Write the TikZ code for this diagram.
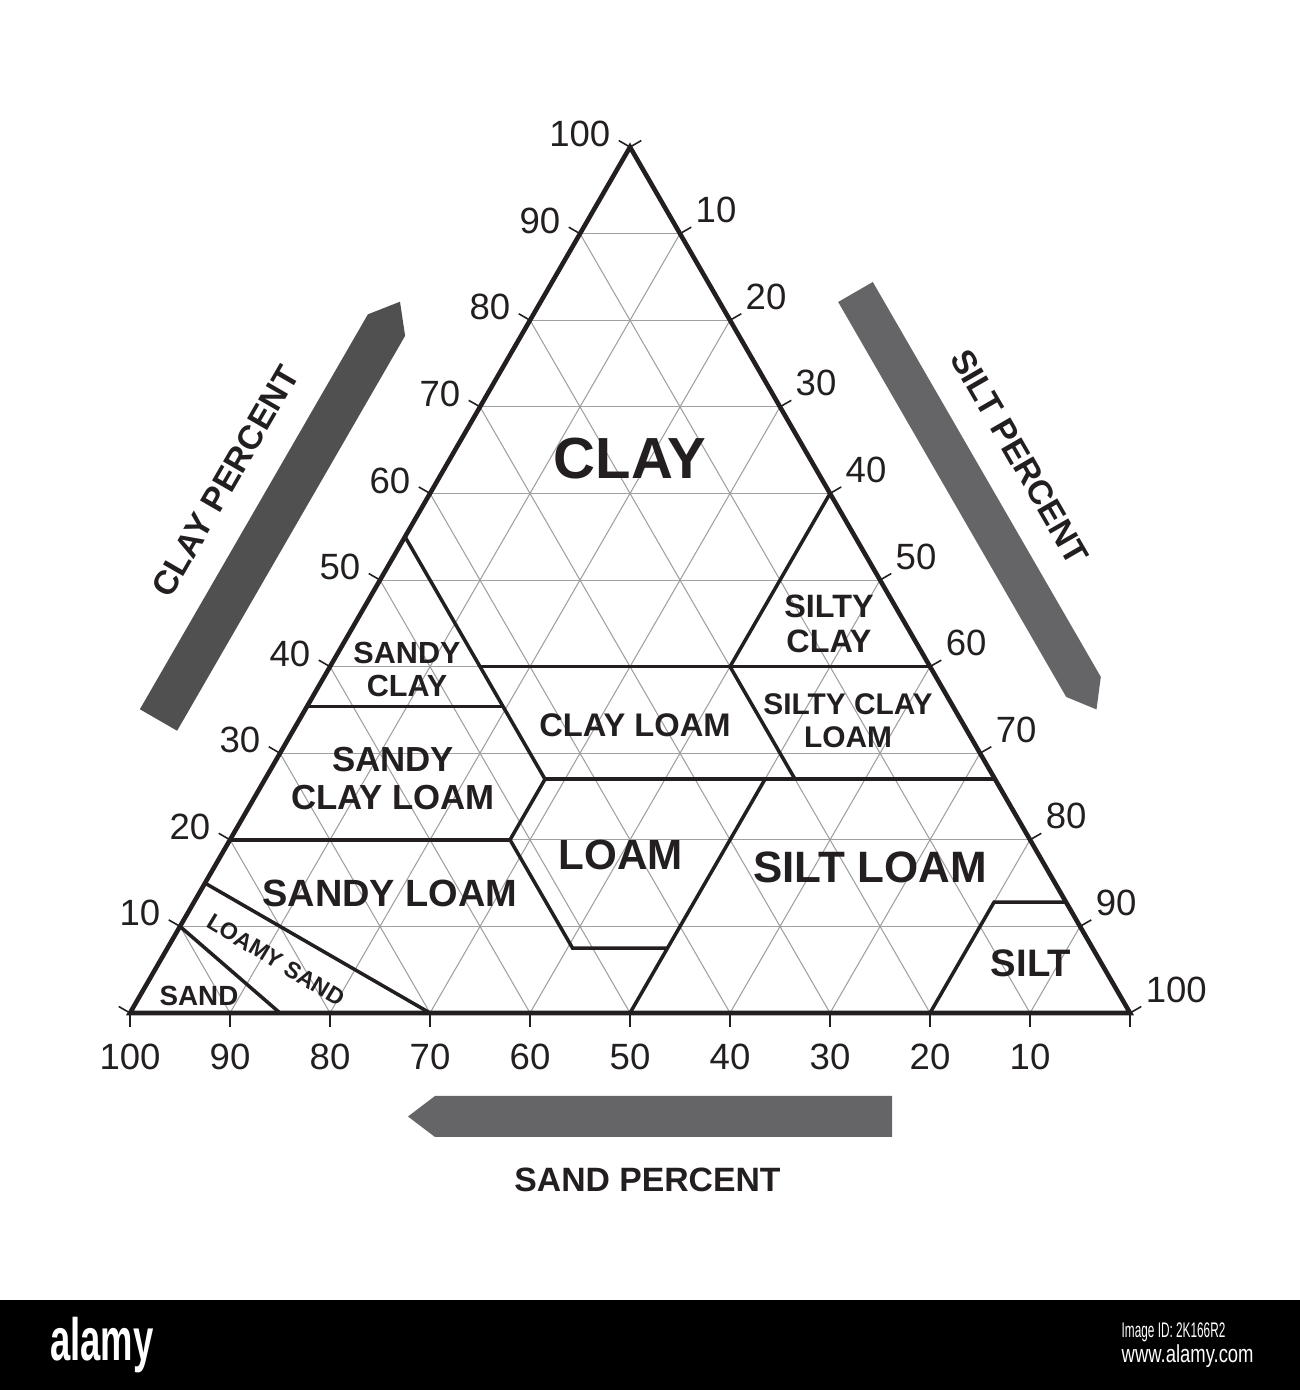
\documentclass[tikz,border=0pt]{standalone}
\usepackage{fontspec}
\setmainfont{Liberation Sans}
\usepackage{tikz}
\usetikzlibrary{positioning}
\definecolor{linedark}{RGB}{35,31,32}
\definecolor{gridgray}{RGB}{160,160,160}
\definecolor{arrowdark}{RGB}{80,80,80}
\definecolor{arrowgray}{RGB}{101,101,103}
\tikzset{
    outline/.style={line width=1.3pt, draw=linedark, line join=miter},
    boundary/.style={line width=1pt, draw=linedark},
    gridline/.style={line width=0.3pt, draw=gridgray},
    tickmark/.style={line width=0.45pt, draw=linedark},
    numlabel/.style={font=\fontsize{10.4}{12}\selectfont, text=linedark, inner sep=0pt},
    region/.style 2 args={font=\bfseries\fontsize{#1}{#2}\selectfont, text=linedark, align=center, inner sep=0pt},
    axislabel/.style={font=\bfseries\fontsize{9.6}{11}\selectfont, text=linedark, inner sep=0pt},
    marktext/.style={text=white, inner sep=0pt}
}
\begin{document}
\begin{tikzpicture}
    \useasboundingbox (0,0) rectangle (13,13.9);
    \fill[white] (0,0) rectangle (13,13.9);

    % Triangle, drawn in (silt, clay) coordinates
    \begin{scope}[shift={(1.3,3.77)}, x={(0.1cm,0cm)}, y={(0.05cm,0.0866cm)}]
        % Grid
        \foreach \k in {10,20,...,90} {
            \draw[gridline] (0,\k) -- ({100-\k},\k);
            \draw[gridline] (\k,0) -- (\k,{100-\k});
            \draw[gridline] (\k,0) -- (0,\k);
        }

        % Texture class boundaries
        \draw[boundary] (0,55) -- (28,27) -- (28,20) -- (40.5,7.5) -- (50,7.5);
        \draw[boundary] (15,40) -- (60,40);
        \draw[boundary] (40,40) -- (40,60);
        \draw[boundary] (0,35.4) -- (19.6,35.4);
        \draw[boundary] (28,27) -- (73,27);
        \draw[boundary] (40,40) -- (53,27);
        \draw[boundary] (0,20) -- (28,20);
        \draw[boundary] (50,27) -- (50,0);
        \draw[boundary] (80,0) -- (80,12.8) -- (87.2,12.8);
        \draw[boundary] (0,15) -- (30,0);
        \draw[boundary] (0,10) -- (15,0);

        % Outline
        \draw[outline] (0,0) -- (100,0) -- (0,100) -- cycle;

        % Ticks
        \foreach \k in {0,10,...,100} {
            \draw[tickmark] (0,\k) -- ++(150:0.13cm);
            \draw[tickmark] (\k,{100-\k}) -- ++(30:0.13cm);
            \draw[tickmark] (\k,0) -- ++(0cm,-0.14cm);
        }

        % Scale numbers
        \foreach \k [evaluate=\k as \s using int(100-\k)] in {10,20,...,100} {
            \node[numlabel, anchor=east] (clay\k) at ([shift={(-0.19cm,0.13cm)}]0,\k) {\k};
            \node[numlabel, anchor=west] (silt\k) at ([shift={(0.15cm,0.235cm)}]\k,\s) {\k};
            \node[numlabel, anchor=north] (sand\k) at ([yshift=-0.30cm]\s,0) {\k};
        }
    \end{scope}

    % Texture classes
    \node[region={16.5}{18}] (clay) at (6.30,9.31) {CLAY};
    \node[region={9.2}{10}] (siltyclay) at (8.29,7.66) {SILTY\\CLAY};
    \node[region={8.7}{9.4}] (sandyclay) at (4.07,7.21) {SANDY\\CLAY};
    \node[region={9.3}{10}] (clayloam) at (6.35,6.65) {CLAY LOAM};
    \node[region={8.5}{9.3}] (siltyclayloam) at (8.48,6.69) {SILTY CLAY\\LOAM};
    \node[region={9.9}{10.8}] (sandyclayloam) at (3.93,6.11) {SANDY\\CLAY LOAM};
    \node[region={10.8}{12}] (sandyloam) at (3.90,4.97) {SANDY LOAM};
    \node[region={12}{13}] (loam) at (6.21,5.35) {LOAM};
    \node[region={12.5}{14}] (siltloam) at (8.70,5.23) {SILT LOAM};
    \node[region={10.9}{12}] (silt) at (10.31,4.27) {SILT};
    \node[region={7.9}{9}] (sand) at (1.99,3.94) {SAND};
    \node[region={6.6}{7.5}, rotate=-31] (loamysand) at (2.76,4.30) {LOAMY SAND};

    % Clay arrow
    \begin{scope}[shift={(1.585,6.70)}, rotate=60]
        \fill[arrowdark] (0,-0.215) -- (4.56,-0.215) -- (4.83,0) -- (4.56,0.215) -- (0,0.215) -- cycle;
    \end{scope}
    \node[axislabel, rotate=60] (claytitle) at (2.255,9.09) {CLAY PERCENT};

    % Silt arrow
    \begin{scope}[shift={(8.555,10.98)}, rotate=-60]
        \fill[arrowgray] (0,-0.20) -- (4.56,-0.20) -- (4.82,0) -- (4.56,0.20) -- (0,0.20) -- cycle;
    \end{scope}
    \node[axislabel, rotate=-60] (silttitle) at (10.20,9.33) {SILT PERCENT};

    % Sand arrow
    \begin{scope}[shift={(8.92,2.735)}, rotate=180]
        \fill[arrowgray] (0,-0.205) -- (4.57,-0.205) -- (4.84,0) -- (4.57,0.205) -- (0,0.205) -- cycle;
    \end{scope}
    \node[axislabel] (sandtitle) at (6.475,2.10) {SAND PERCENT};

    % Stock band
    \fill[black] (0,0) rectangle (13,0.90);
    \node[marktext, font=\bfseries\fontsize{17}{17}\selectfont] (alamylogo) at (1.02,0.45) {\scalebox{0.61}[1]{alamy}};
    \node[marktext, anchor=west, font=\fontsize{6}{6}\selectfont] (imageid) at (11.21,0.58) {\scalebox{0.56}[1]{Image ID: 2K166R2}};
    \node[marktext, anchor=west, font=\fontsize{7}{7}\selectfont] (website) at (11.21,0.34) {\scalebox{0.75}[1]{www.alamy.com}};
\end{tikzpicture}
\end{document}
